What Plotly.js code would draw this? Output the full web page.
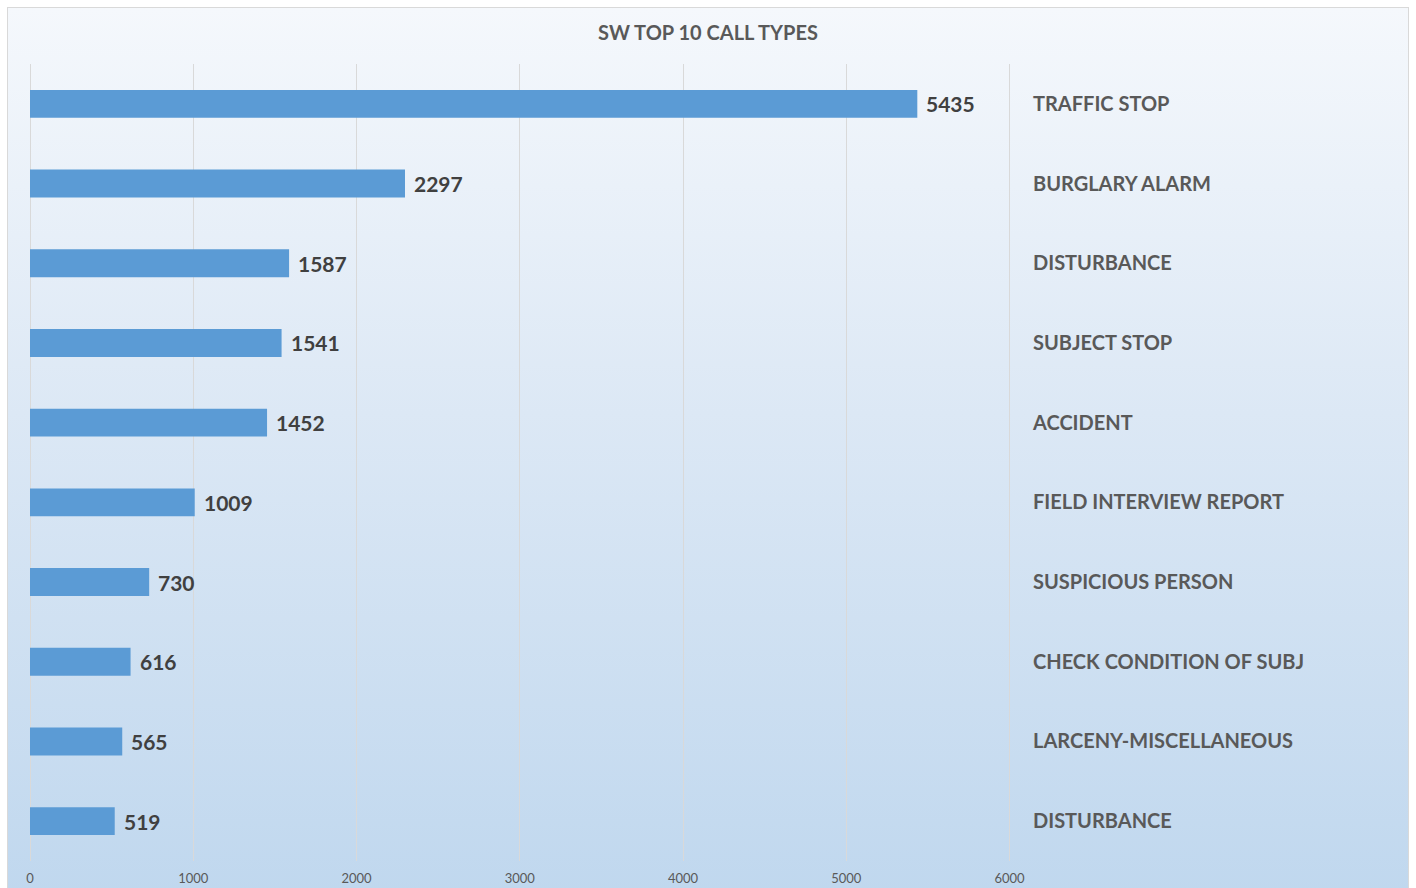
<!DOCTYPE html>
<html>
<head>
<meta charset="utf-8">
<script src="https://cdn.plot.ly/plotly-3.0.1.min.js"></script>
<style>
  html, body { margin: 0; padding: 0; background: #ffffff; width: 1416px; height: 888px; overflow: hidden; }
  #bg { position: absolute; left: 7px; top: 7px; width: 1400px; height: 900px;
        border: 1px solid #d9d9d9;
        background: linear-gradient(to bottom, #f5f8fc 0%, #dce8f5 45%, #bfd7ee 100%); }
  #chart { position: absolute; left: 0; top: 0; width: 1416px; height: 888px; }
</style>
</head>
<body>
<div id="bg"></div>
<div id="chart"></div>
<script>
const categories = ["TRAFFIC STOP", "BURGLARY ALARM", "DISTURBANCE", "SUBJECT STOP", "ACCIDENT",
  "FIELD INTERVIEW REPORT", "SUSPICIOUS PERSON", "CHECK CONDITION OF SUBJ", "LARCENY-MISCELLANEOUS", "DISTURBANCE"];
const values = [5435, 2297, 1587, 1541, 1452, 1009, 730, 616, 565, 519];
const xTicks = [0, 1000, 2000, 3000, 4000, 5000, 6000];

const positions = categories.map((c, i) => i);
const font = "Lato, 'Open Sans', 'DejaVu Sans', sans-serif";

const trace = {
  type: 'bar',
  orientation: 'h',
  x: values,
  y: positions,
  width: 0.35,
  marker: { color: '#5b9bd5', line: { width: 0 } },
  hoverinfo: 'skip'
};

const annotations = values.map((v, i) => ({
  x: v, y: i, xref: 'x', yref: 'y',
  text: '<b>' + v + '</b>',
  showarrow: false, xanchor: 'left', yanchor: 'middle', xshift: 7,
  font: { family: font, size: 21, color: '#404040' }
}));

const layout = {
  width: 1416, height: 888,
  paper_bgcolor: 'rgba(0,0,0,0)',
  plot_bgcolor: 'rgba(0,0,0,0)',
  margin: { l: 30, r: 404, t: 64, b: 27, pad: 0 },
  showlegend: false,
  title: {
    text: '<b>SW TOP 10 CALL TYPES</b>',
    x: 0.5, xanchor: 'center', y: 1 - 33 / 888, yanchor: 'middle', yref: 'container', xref: 'container',
    font: { family: font, size: 20, color: '#595959' }
  },
  xaxis: {
    range: [0, 6015],
    tickvals: xTicks,
    ticktext: xTicks.map(String),
    showgrid: true, gridcolor: '#d9d9d9', gridwidth: 1,
    zeroline: true, zerolinecolor: '#d9d9d9', zerolinewidth: 1,
    showline: false, ticks: '',
    ticklabelstandoff: 8,
    tickfont: { family: font, size: 13, color: '#595959' },
    fixedrange: true
  },
  yaxis: {
    range: [9.5, -0.5],
    side: 'right',
    tickvals: positions,
    ticktext: categories.map(c => '<b>' + c + '</b>'),
    showgrid: false, zeroline: false, showline: false, ticks: '',
    ticklabelstandoff: 20,
    tickfont: { family: font, size: 20, color: '#595959' },
    fixedrange: true
  },
  annotations: annotations
};

Plotly.newPlot('chart', [trace], layout, { displayModeBar: false, staticPlot: true });
</script>
</body>
</html>
